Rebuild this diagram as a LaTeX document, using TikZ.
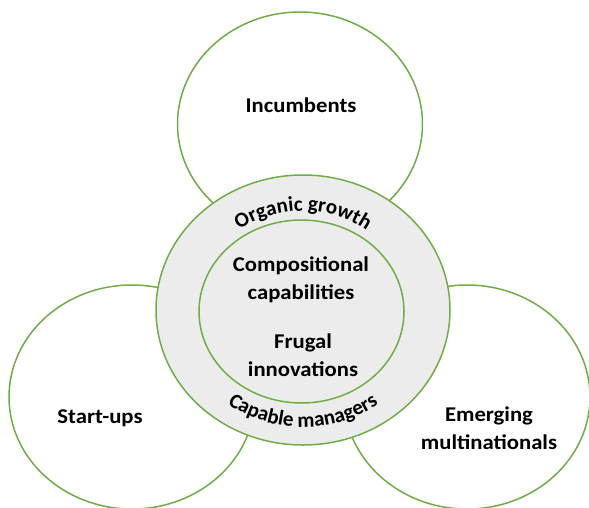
\documentclass[tikz,border=0pt]{standalone}
\usepackage{fontspec}
\setmainfont{Carlito}
\usetikzlibrary{shapes.geometric,decorations.text}
\definecolor{ringgreen}{RGB}{112,173,71}
\definecolor{ringgray}{RGB}{236,236,236}
\begin{document}
\begin{tikzpicture}[x=1pt,y=-1pt,
  circ/.style={ellipse, draw=ringgreen, line width=1.5pt, inner sep=0pt},
  lbl/.style={font=\bfseries\fontsize{21}{28.5}\selectfont, align=center, xscale=1.08, inner sep=0pt}
]
\useasboundingbox (0,0) rectangle (589,507);
\node[circ, fill=white, minimum width=245pt, minimum height=224pt] (inc) at (300,124) {};
\node[circ, fill=white, minimum width=246pt, minimum height=224pt] (start) at (132,397) {};
\node[circ, fill=white, minimum width=246pt, minimum height=224pt] (emer) at (467,397) {};
\node[circ, fill=ringgray, minimum width=294pt, minimum height=270pt] (outer) at (303,310) {};
\node[circ, fill=ringgray, minimum width=205pt, minimum height=183pt] (inner) at (301.5,311.5) {};

\node[lbl] (tinc) at (301,105) {Incumbents};
\node[lbl] (tstart) at (100,418) {Start-ups};
\node[lbl] (temer) at (489,428) {Emerging\\multinationals};
\node[lbl] (tcomp) at (301,280) {Compositional\\capabilities};
\node[lbl] (tfrug) at (303,355) {Frugal\\innovations};

\path[decorate, decoration={text along path, text align=center,
  text={|\bfseries\fontsize{21}{25}\selectfont|Organic growth}}]
  (outer.center) ++(200:108 and 99) arc[start angle=200, end angle=340, x radius=108, y radius=99];
\path[decorate, decoration={text along path, text align=center,
  text={|\bfseries\fontsize{21}{25}\selectfont|Capable managers}}]
  (outer.center) ++(160:127 and 117) arc[start angle=160, end angle=20, x radius=127, y radius=117];
\end{tikzpicture}
\end{document}
